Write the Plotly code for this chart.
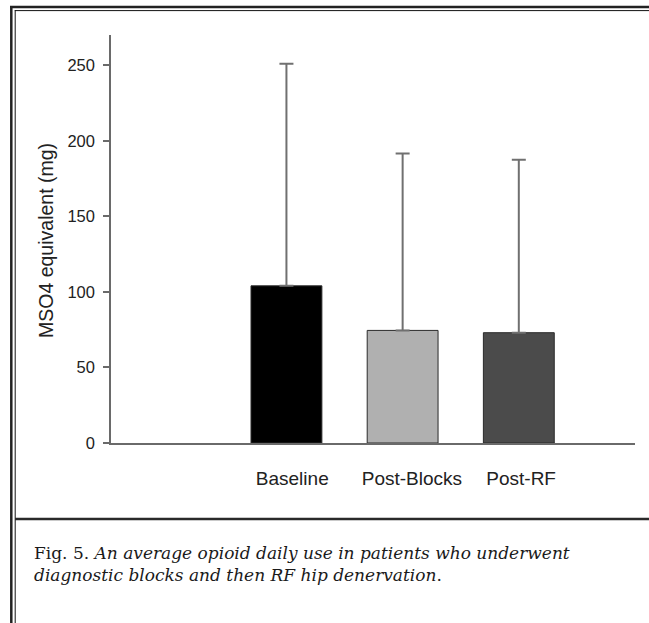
import plotly.graph_objects as go

# ---- data ----
categories = ["Baseline", "Post-Blocks", "Post-RF"]
positions = [1, 2, 3]            # slot 0 is left empty as in the original
label_positions = [1.05, 2.08, 3.02]   # labels sit slightly right of bars in the original
means = [104, 74.5, 73]
err_plus = [147, 117, 114.5]
bar_colors = ["#000000", "#b0b0b0", "#4b4b4b"]
y_ticks = [0, 50, 100, 150, 200, 250]

W, H = 649, 623
L, R, T, B = 111, 14, 35, 180
PW, PH = W - L - R, H - T - B


def px(x):
    return (x - L) / PW


def py(y):
    return (H - B - y) / PH


fig = go.Figure()
fig.add_trace(go.Bar(
    x=positions, y=means, width=0.61,
    marker=dict(color=bar_colors, line=dict(color="#2a2a2a", width=1)),
    error_y=dict(type="data", symmetric=False, array=err_plus,
                 arrayminus=[0] * len(means), color="#707070",
                 thickness=2, width=7),
    showlegend=False,
))

axis_font = dict(family="Liberation Sans, Arial, sans-serif", color="#222222")

fig.update_layout(
    width=W, height=H,
    margin=dict(l=L, r=R, t=T, b=B),
    paper_bgcolor="white", plot_bgcolor="white",
    xaxis=dict(range=[-0.51, 4.0], tickvals=label_positions, ticktext=categories,
               showgrid=False, zeroline=False, showline=True,
               linecolor="#6a6a6a", linewidth=1.5, ticks="",
               ticklabelstandoff=17, tickfont=dict(size=19, **axis_font)),
    yaxis=dict(range=[0, 270], tickvals=y_ticks, showgrid=False,
               zeroline=False, showline=True, linecolor="#6a6a6a",
               linewidth=1.5, ticks="outside", ticklen=6, tickwidth=1.5,
               tickcolor="#6a6a6a", ticklabelstandoff=5,
               tickfont=dict(size=16.5, **axis_font)),
    font=axis_font,
)

# y-axis title placed as an annotation to match the original's position
fig.add_annotation(
    xref="paper", yref="paper", x=px(46), y=py(241), textangle=-90,
    xanchor="center", yanchor="middle", showarrow=False,
    text="MSO4 equivalent (mg)", font=dict(size=19.5, **axis_font),
)

# frame lines (decorative page border of the figure)
shapes = [
    dict(x0=px(10), x1=px(W + 2), y0=py(7), y1=py(7), width=2.5, color="#222222"),
    dict(x0=px(14.8), x1=px(W + 2), y0=py(10.6), y1=py(10.6), width=1, color="#111111"),
    dict(x0=px(11.3), x1=px(11.3), y0=py(6), y1=py(H + 2), width=2.5, color="#222222"),
    dict(x0=px(15.2), x1=px(15.2), y0=py(10.1), y1=py(H + 2), width=1, color="#111111"),
    dict(x0=px(15), x1=px(W + 2), y0=py(519), y1=py(519), width=2.5, color="#2a2a2a"),
]
for s in shapes:
    fig.add_shape(type="line", xref="paper", yref="paper",
                  x0=s["x0"], x1=s["x1"], y0=s["y0"], y1=s["y1"],
                  line=dict(color=s["color"], width=s["width"]), layer="above")

fig.add_annotation(
    xref="paper", yref="paper", x=px(32), y=py(541), xanchor="left",
    yanchor="top", align="left", showarrow=False,
    text=("Fig. 5. <i>An average opioid daily use in patients who underwent</i><br>"
          "<i>diagnostic blocks and then RF hip denervation</i>."),
    font=dict(family="DejaVu Serif, serif", size=17, color="#1a1a1a"),
)

fig.write_html("out.html")
